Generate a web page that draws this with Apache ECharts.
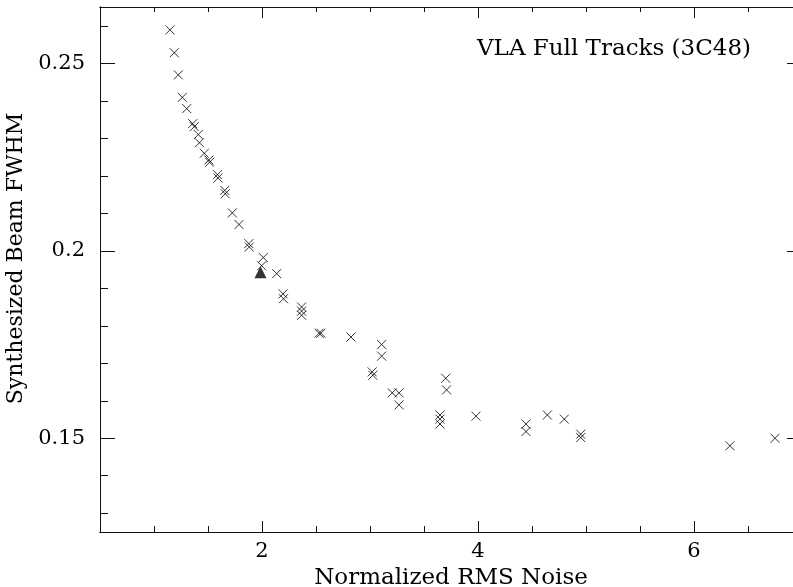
<!DOCTYPE html>
<html>
<head>
<meta charset="utf-8">
<script src="https://cdn.jsdelivr.net/npm/echarts@6/dist/echarts.min.js"></script>
<style>html,body{margin:0;padding:0;background:#fff}#c{width:793px;height:587px}</style>
</head>
<body>
<div id="c"></div>
<script>
// RMS noise (x) and beam FWHM (y) for the crosses
const noiseX = [1.148,1.188,1.225,1.262,1.303,1.358,1.373,1.410,1.421,1.466,1.508,1.515,1.588,1.592,1.655,1.659,1.725,1.787,1.878,1.882,2.012,1.997,2.136,2.195,2.199,2.367,2.367,2.367,2.528,2.546,2.824,3.108,3.108,3.020,3.026,3.206,3.269,3.269,3.701,3.709,3.648,3.648,3.648,3.981,4.444,4.444,4.642,4.799,4.951,4.951,6.333,6.750];
const fwhmY = [0.2589,0.2528,0.2469,0.2409,0.2379,0.2339,0.2331,0.2310,0.2288,0.2260,0.2242,0.2236,0.2203,0.2194,0.2161,0.2152,0.2101,0.2070,0.2019,0.2010,0.1982,0.1960,0.1939,0.1885,0.1872,0.1850,0.1839,0.1828,0.1780,0.1780,0.1770,0.1750,0.1719,0.1677,0.1668,0.1621,0.1621,0.1589,0.1660,0.1629,0.1562,0.1551,0.1538,0.1559,0.1538,0.1518,0.1562,0.1551,0.1511,0.1502,0.1480,0.1500];
// highlighted point (triangle)
const markX = [1.986];
const markY = [0.1943];
// ticks and labels
const xMajor = [2,4,6];
const xMinor = [1,1.5,2,2.5,3,3.5,4,4.5,5,5.5,6,6.5];
const yMajor = [0.15,0.2,0.25];
const yMinor = [0.13,0.14,0.15,0.16,0.17,0.18,0.19,0.2,0.21,0.22,0.23,0.24,0.25,0.26];
const titleText = 'VLA Full Tracks (3C48)';
const xName = 'Normalized RMS Noise';
const yName = 'Synthesized Beam FWHM';

const FONT = 'DejaVu Serif';
const XMIN = 0.5, XMAX = 7, YMIN = 0.125, YMAX = 0.265;

function xAx(pos, vals, len, labels, name) {
  return {
    type: 'value', position: pos, min: XMIN, max: XMAX, gridIndex: 0,
    axisLine: {show: true, onZero: false, lineStyle: {color: '#111', width: 1}},
    axisTick: {show: true, inside: true, length: len, customValues: vals, lineStyle: {color: '#111', width: 1}},
    axisLabel: labels ? {show: true, customValues: xMajor, margin: 9, color: '#000', fontFamily: FONT, fontSize: 21, formatter: v => String(v)} : {show: false},
    splitLine: {show: false},
    name: name || '', nameLocation: 'middle', nameGap: 31,
    nameTextStyle: {color: '#000', fontFamily: FONT, fontSize: 23}
  };
}
function yAx(pos, vals, len, labels, name) {
  return {
    type: 'value', position: pos, min: YMIN, max: YMAX, gridIndex: 0,
    axisLine: {show: true, onZero: false, lineStyle: {color: '#111', width: 1}},
    axisTick: {show: true, inside: true, length: len, customValues: vals, lineStyle: {color: '#111', width: 1}},
    axisLabel: labels ? {show: true, customValues: yMajor, margin: 15, color: '#000', fontFamily: FONT, fontSize: 21, formatter: v => String(+v.toFixed(3))} : {show: false},
    splitLine: {show: false},
    name: name || '', nameLocation: 'middle', nameGap: 66, nameRotate: 90,
    nameTextStyle: {color: '#000', fontFamily: FONT, fontSize: 22, padding: [0, 0, 0, 22]}
  };
}

const crossData = noiseX.map((x, i) => [x, fwhmY[i]]);
const triData = markX.map((x, i) => [x, markY[i]]);

const chart = echarts.init(document.getElementById('c'), null, {renderer: 'canvas'});
chart.setOption({
  animation: false,
  backgroundColor: '#fff',
  title: {text: titleText, left: 472, top: 33, textStyle: {color: '#000', fontFamily: FONT, fontSize: 23, fontWeight: 'normal'}},
  grid: {left: 100, top: 7, width: 702, height: 525, containLabel: false, outerBoundsMode: 'none'},
  xAxis: [
    xAx('bottom', xMinor, 6, true, xName),
    xAx('bottom', xMajor, 11, false),
    xAx('top', xMinor, 5, false),
    xAx('top', xMajor, 11, false)
  ],
  yAxis: [
    yAx('left', yMinor, 8, true, yName),
    yAx('left', yMajor, 15, false),
    yAx('right', yMinor, 8, false),
    yAx('right', yMajor, 15, false)
  ],
  series: [
    {
      type: 'scatter', xAxisIndex: 0, yAxisIndex: 0, data: crossData,
      symbol: 'path://M0 0L10 10M10 0L0 10', symbolSize: 9,
      itemStyle: {color: 'rgba(0,0,0,0)', borderColor: '#000', borderWidth: 1}
    },
    {
      type: 'scatter', xAxisIndex: 0, yAxisIndex: 0, data: triData,
      symbol: 'triangle', symbolSize: 12,
      itemStyle: {color: '#000'}
    }
  ]
});
</script>
</body>
</html>
